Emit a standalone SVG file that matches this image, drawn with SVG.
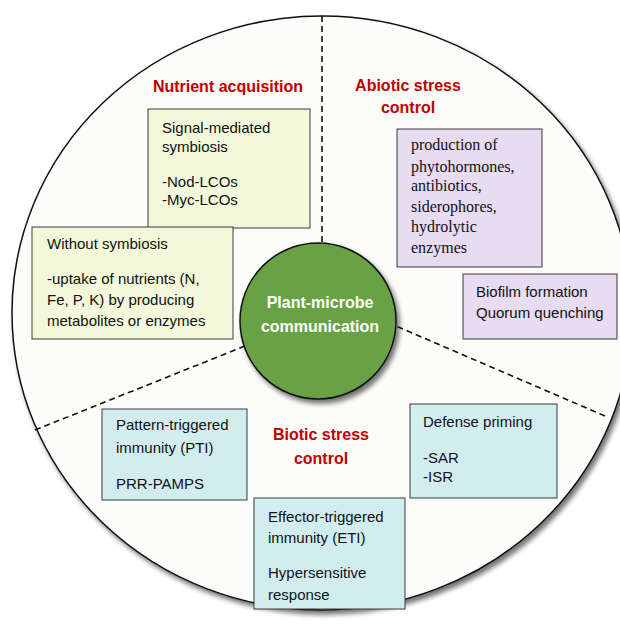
<svg xmlns="http://www.w3.org/2000/svg" width="620" height="627" viewBox="0 0 620 627">
<defs>
<filter id="shadow" x="-10%" y="-10%" width="120%" height="120%">
<feGaussianBlur in="SourceAlpha" stdDeviation="2.5"/>
<feOffset dx="3" dy="4" result="b"/>
<feComponentTransfer><feFuncA type="linear" slope="0.55"/></feComponentTransfer>
<feMerge><feMergeNode/><feMergeNode in="SourceGraphic"/></feMerge>
</filter>
</defs>
<style>
.box{stroke:#3a3a3a;stroke-width:1}
.yg{fill:#f3f8da}
.pu{fill:#e7dcf1}
.cy{fill:#d2edf0}
.t{font-family:"Liberation Sans",Arial,sans-serif;font-size:15px;fill:#111}
.s{font-family:"Liberation Serif","Times New Roman",serif;font-size:16px;fill:#111}
.h{font-family:"Liberation Sans",Arial,sans-serif;font-size:16px;font-weight:bold;fill:#c00000;text-anchor:middle}
.c{font-family:"Liberation Sans",Arial,sans-serif;font-size:16px;font-weight:bold;fill:#ffffff;text-anchor:middle}
.dash{stroke:#111;stroke-width:1.6;stroke-dasharray:6 4;fill:none}
</style>
<rect width="620" height="627" fill="#ffffff"/>
<g id="outer">
<ellipse cx="322" cy="313" rx="310" ry="297" fill="#fcfcfa" stroke="#111" stroke-width="1.5" filter="url(#shadow)"/>
</g>
<g id="connectors">
<line class="dash" x1="322" y1="16" x2="322" y2="243"/>
<line class="dash" x1="35" y1="430" x2="245" y2="346"/>
<line class="dash" x1="605" y1="416" x2="396" y2="326"/>
</g>
<g id="center">
<circle cx="318" cy="321" r="78" fill="#69a244" stroke="#111" stroke-width="1.5" filter="url(#shadow)"/>
<text class="c" x="320" y="308">Plant-microbe</text>
<text class="c" x="320" y="332">communication</text>
</g>
<g id="label-nutrient">
<text class="h" x="228" y="92">Nutrient acquisition</text>
</g>
<g id="label-abiotic">
<text class="h" x="408" y="91">Abiotic stress</text>
<text class="h" x="408" y="113">control</text>
</g>
<g id="label-biotic">
<text class="h" x="321" y="440">Biotic stress</text>
<text class="h" x="321" y="464">control</text>
</g>
<g id="box-signal">
<rect class="box yg" x="148" y="109" width="162" height="119"/>
<text class="t" x="162" y="133">Signal-mediated</text>
<text class="t" x="162" y="152">symbiosis</text>
<text class="t" x="162" y="187">-Nod-LCOs</text>
<text class="t" x="162" y="205">-Myc-LCOs</text>
</g>
<g id="box-without">
<rect class="box yg" x="32" y="227" width="201" height="112"/>
<text class="t" x="47" y="249">Without symbiosis</text>
<text class="t" x="47" y="284">-uptake of nutrients (N,</text>
<text class="t" x="47" y="305">Fe, P, K) by producing</text>
<text class="t" x="47" y="326">metabolites or enzymes</text>
</g>
<g id="box-production">
<rect class="box pu" x="397" y="129" width="145" height="138"/>
<text class="s" x="411" y="150">production of</text>
<text class="s" x="411" y="172">phytohormones,</text>
<text class="s" x="411" y="191">antibiotics,</text>
<text class="s" x="411" y="212">siderophores,</text>
<text class="s" x="411" y="232">hydrolytic</text>
<text class="s" x="411" y="253">enzymes</text>
</g>
<g id="box-biofilm">
<rect class="box pu" x="463" y="274" width="154" height="65"/>
<text class="t" x="476" y="297">Biofilm formation</text>
<text class="t" x="476" y="318">Quorum quenching</text>
</g>
<g id="box-pti">
<rect class="box cy" x="102" y="409" width="145" height="91"/>
<text class="t" x="116" y="430">Pattern-triggered</text>
<text class="t" x="116" y="453">immunity (PTI)</text>
<text class="t" x="116" y="489">PRR-PAMPS</text>
</g>
<g id="box-priming">
<rect class="box cy" x="410" y="404" width="147" height="94"/>
<text class="t" x="423" y="427">Defense priming</text>
<text class="t" x="423" y="463">-SAR</text>
<text class="t" x="423" y="482">-ISR</text>
</g>
<g id="box-eti">
<rect class="box cy" x="254" y="498" width="151" height="111"/>
<text class="t" x="268" y="522">Effector-triggered</text>
<text class="t" x="268" y="543">immunity (ETI)</text>
<text class="t" x="268" y="578">Hypersensitive</text>
<text class="t" x="268" y="600">response</text>
</g>
</svg>
